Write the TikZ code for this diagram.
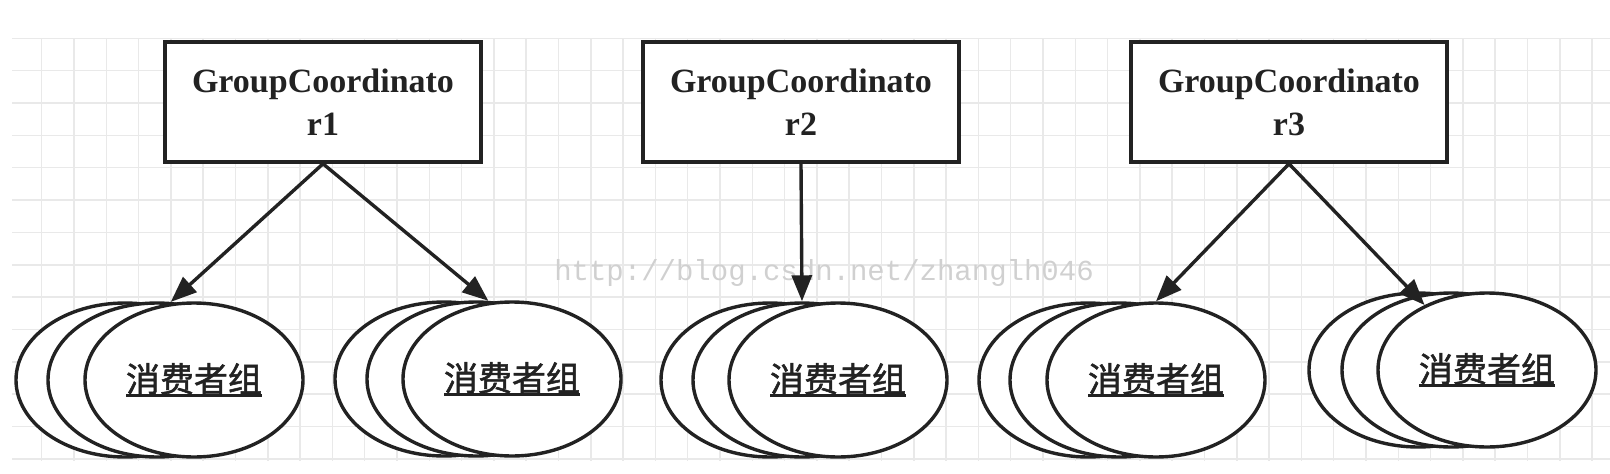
\documentclass[tikz,border=0pt]{standalone}
\usepackage{fontspec}
\setmainfont{Liberation Serif}
\newfontfamily\cjk[FakeBold=1.5]{Noto Sans CJK SC}
\newfontfamily\markfont{Liberation Mono}
\usetikzlibrary{shapes.geometric, arrows.meta}
\definecolor{ink}{HTML}{222222}
\definecolor{gridgray}{HTML}{E9E9E9}
\definecolor{markgray}{HTML}{D0D0D0}
\newcommand{\groupname}{\setbox0\hbox{\cjk 消费者组}\rlap{\copy0}\rule[-5pt]{\wd0}{3pt}}

\begin{document}
\begin{tikzpicture}[
  x = 1pt, y = -1pt,
  line width = 3.4pt,
  >= {Triangle[length = 26pt, width = 20pt]},
  coordinator/.style = {draw = ink, fill = white, line width = 3.6pt,
    minimum width = 316pt, minimum height = 120pt, align = center,
    font = \bfseries\fontsize{34}{43}\selectfont, text = ink},
  group/.style = {ellipse, draw = ink, fill = white, line width = 3.4pt,
    minimum width = 218pt, minimum height = 154pt, inner sep = 0pt,
    font = \fontsize{34}{40}\selectfont, text = ink},
  gridline/.style = {draw = gridgray, line width = 1.5pt},
  ]

  \useasboundingbox (0, 0) rectangle (1610, 474);

  % background grid
  \foreach \k in {0, ..., 13}
    \draw [gridline] (12, 38.3 + 32.35 * \k) -- (1610, 38.3 + 32.35 * \k);
  \foreach \k in {0, ..., 48}
    \draw [gridline] (41.7 + 32.3 * \k, 38) -- (41.7 + 32.3 * \k, 461);

  \node at (824, 280)
  [anchor = base, name = Watermark, text = markgray,
   font = \markfont\fontsize{29}{29}\selectfont] {http://blog.csdn.net/zhanglh046};

  \node at (323, 102)
  [coordinator, name = Coord1] {GroupCoordinato\\r1};

  \node at (801, 102)
  [coordinator, name = Coord2] {GroupCoordinato\\r2};

  \node at (1289, 102)
  [coordinator, name = Coord3] {GroupCoordinato\\r3};

  % consumer groups, back to front
  \node at (125, 380) [group, name = Consumers1Back] {};
  \node at (157, 380) [group, name = Consumers1Mid] {};
  \node at (194, 380) [group, name = Consumers1] {\groupname};

  \node at (444, 379) [group, name = Consumers2Back] {};
  \node at (476, 379) [group, name = Consumers2Mid] {};
  \node at (512, 379) [group, name = Consumers2] {\groupname};

  \node at (770, 380) [group, name = Consumers3Back] {};
  \node at (802, 380) [group, name = Consumers3Mid] {};
  \node at (838, 380) [group, name = Consumers3] {\groupname};

  \node at (1088, 380) [group, name = Consumers4Back] {};
  \node at (1119, 380) [group, name = Consumers4Mid] {};
  \node at (1156, 380) [group, name = Consumers4] {\groupname};

  \node at (1418, 370) [group, name = Consumers5Back] {};
  \node at (1451, 370) [group, name = Consumers5Mid] {};
  \node at (1487, 370) [group, name = Consumers5] {\groupname};

  \draw [->, ink] (Coord1.south) to (Consumers1Mid.80);

  \draw [->, ink] (Coord1.south) to (Consumers2Mid.81);

  \draw [->, ink] (Coord2.south) to (Consumers3Mid.north);

  \draw [->, ink] (Coord3.south) to (Consumers4.north);

  \draw [->, ink] (Coord3.south) to (Consumers5);

\end{tikzpicture}
\end{document}
